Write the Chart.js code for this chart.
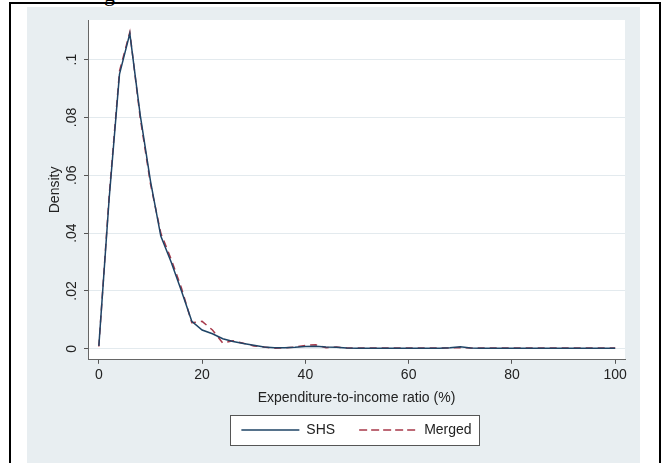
<!DOCTYPE html>
<html>
<head>
<meta charset="utf-8">
<script src="https://cdn.jsdelivr.net/npm/chart.js@4/dist/chart.umd.min.js"></script>
<style>
    body { margin: 0; background: #fff; width: 665px; height: 463px; overflow: hidden; position: relative; }
    #frame { position: absolute; left: 9px; top: 2px; width: 648px; height: 470px; border: 2px solid #000; border-bottom: none; }
    #cut { position: absolute; left: 104px; top: -19px; font: 22px "Liberation Serif", serif; color: #000; }
    #panel { position: absolute; left: 27px; top: 7px; width: 613px; height: 456px; background: #e8eef1; }
    #chart1 { position: absolute; left: 0; top: 0; }
</style>
</head>
<body>
<div id="cut">g</div>
<div id="frame"></div>
<div id="panel"><canvas id="chart1" width="613" height="456"></canvas></div>
<script>
// kernel density estimates (x in %, step 2)
const xGrid = [0, 2, 4, 6, 8, 10, 12, 14, 16, 18, 20, 22, 24, 26, 28, 30, 32, 34, 36, 38, 40,
    42, 44, 46, 48, 50, 52, 54, 56, 58, 60, 62, 64, 66, 68, 70, 72, 74, 76, 78, 80,
    82, 84, 86, 88, 90, 92, 94, 96, 98, 100];
const shsDensity = [0.001, 0.052, 0.095, 0.109, 0.081, 0.058, 0.039, 0.030, 0.020, 0.0095, 0.0065,
    0.0052, 0.0035, 0.0025, 0.0018, 0.0012, 0.0006, 0.0004, 0.0004, 0.0005, 0.0008,
    0.0009, 0.0006, 0.0005, 0.0003, 0.0002, 0.0002, 0.0002, 0.0002, 0.0002, 0.0002,
    0.0002, 0.0002, 0.0002, 0.0004, 0.0007, 0.0003, 0.0002, 0.0002, 0.0002, 0.0002,
    0.0002, 0.0002, 0.0002, 0.0002, 0.0002, 0.0002, 0.0002, 0.0002, 0.0002, 0.0002];
const mergedDensity = [0.0008, 0.053, 0.096, 0.1095, 0.080, 0.057, 0.040, 0.031, 0.021, 0.009, 0.0095,
    0.0065, 0.002, 0.0028, 0.0019, 0.001, 0.0006, 0.0002, 0.0003, 0.0006, 0.0012,
    0.0014, 0.0004, 0.0006, 0.0003, 0.0003, 0.0003, 0.0003, 0.0003, 0.0003, 0.0003,
    0.0003, 0.0003, 0.0003, 0.0003, 0.0004, 0.0003, 0.0003, 0.0003, 0.0003, 0.0003,
    0.0003, 0.0003, 0.0003, 0.0003, 0.0003, 0.0003, 0.0003, 0.0003, 0.0003, 0.0003];
const xTicks = [0, 20, 40, 60, 80, 100];
const yTicks = [0, 0.02, 0.04, 0.06, 0.08, 0.1];
const yTickLabels = ['0', '.02', '.04', '.06', '.08', '.1'];

const font14 = { family: '"Liberation Sans", Arial, sans-serif', size: 14 };

// white plot region and the boxed legend, Stata style
const stataBoxes = {
    id: 'stataBoxes',
    beforeDraw(chart) {
        const ctx = chart.ctx;
        const a = chart.chartArea;
        ctx.save();
        ctx.fillStyle = '#fff';
        ctx.fillRect(a.left, a.top, a.right - a.left, a.bottom - a.top);
        const hb = chart.legend.legendHitBoxes;
        if (hb && hb.length) {
            const last = hb[hb.length - 1];
            const x0 = hb[0].left - 11;
            const x1 = last.left + last.width + 8;
            const cy = hb[0].top + hb[0].height / 2;
            ctx.fillRect(x0, cy - 15, x1 - x0, 30);
            ctx.strokeStyle = '#555';
            ctx.lineWidth = 1;
            ctx.strokeRect(Math.round(x0) + 0.5, Math.round(cy - 15) + 0.5, Math.round(x1 - x0), 30);
        }
        ctx.restore();
    }
};

function makeChart() {
    const ctx = document.getElementById('chart1');

    const chart = new Chart(ctx, {
        type: 'line',
        data: {
            datasets: [{
                label: 'SHS',
                data: xGrid.map((x, i) => ({ x: x, y: shsDensity[i] })),
                borderColor: '#1f4466',
                backgroundColor: 'rgba(0,0,0,0)',
                borderWidth: 1.5,
                pointRadius: 0,
                tension: 0
            }, {
                label: 'Merged',
                data: xGrid.map((x, i) => ({ x: x, y: mergedDensity[i] })),
                borderColor: '#a8394a',
                backgroundColor: 'rgba(0,0,0,0)',
                borderWidth: 1.5,
                borderDash: [7, 5],
                pointRadius: 0,
                tension: 0
            }]
        },
        options: {
            responsive: false,
            animation: false,
            layout: { padding: { left: 0, right: 15, top: 13, bottom: 16 } },
            scales: {
                x: {
                    type: 'linear',
                    min: -2.1,
                    max: 101.9,
                    afterBuildTicks: s => { s.ticks = xTicks.map(v => ({ value: v })); },
                    grid: { drawOnChartArea: false, tickLength: 4, tickColor: '#555' },
                    border: { color: '#666', width: 1 },
                    ticks: { font: font14, color: '#222', padding: 3, maxRotation: 0 },
                    title: {
                        display: true,
                        text: 'Expenditure-to-income ratio (%)',
                        font: font14,
                        color: '#222',
                        padding: { top: 3, bottom: -7.4 }
                    }
                },
                y: {
                    min: -0.0038,
                    max: 0.1137,
                    afterBuildTicks: s => { s.ticks = yTicks.map(v => ({ value: v })); },
                    afterFit: s => { s.width = 61; },
                    grid: { color: '#e3eaee', tickLength: 4, tickColor: '#555' },
                    border: { color: '#666', width: 1 },
                    ticks: {
                        font: font14,
                        color: '#222',
                        padding: 2,
                        minRotation: 90,
                        maxRotation: 90,
                        crossAlign: 'center',
                        callback: (v, i) => yTickLabels[i]
                    },
                    title: {
                        display: true,
                        text: 'Density',
                        font: font14,
                        color: '#222',
                        padding: { top: 19.6, bottom: 0 }
                    }
                }
            },
            plugins: {
                legend: {
                    position: 'bottom',
                    fullSize: false,
                    labels: {
                        font: font14,
                        color: '#222',
                        boxWidth: 58,
                        boxHeight: 0,
                        padding: 24
                    }
                },
                tooltip: { enabled: false }
            }
        },
        plugins: [stataBoxes]
    });
}

makeChart();
</script>
</body>
</html>
